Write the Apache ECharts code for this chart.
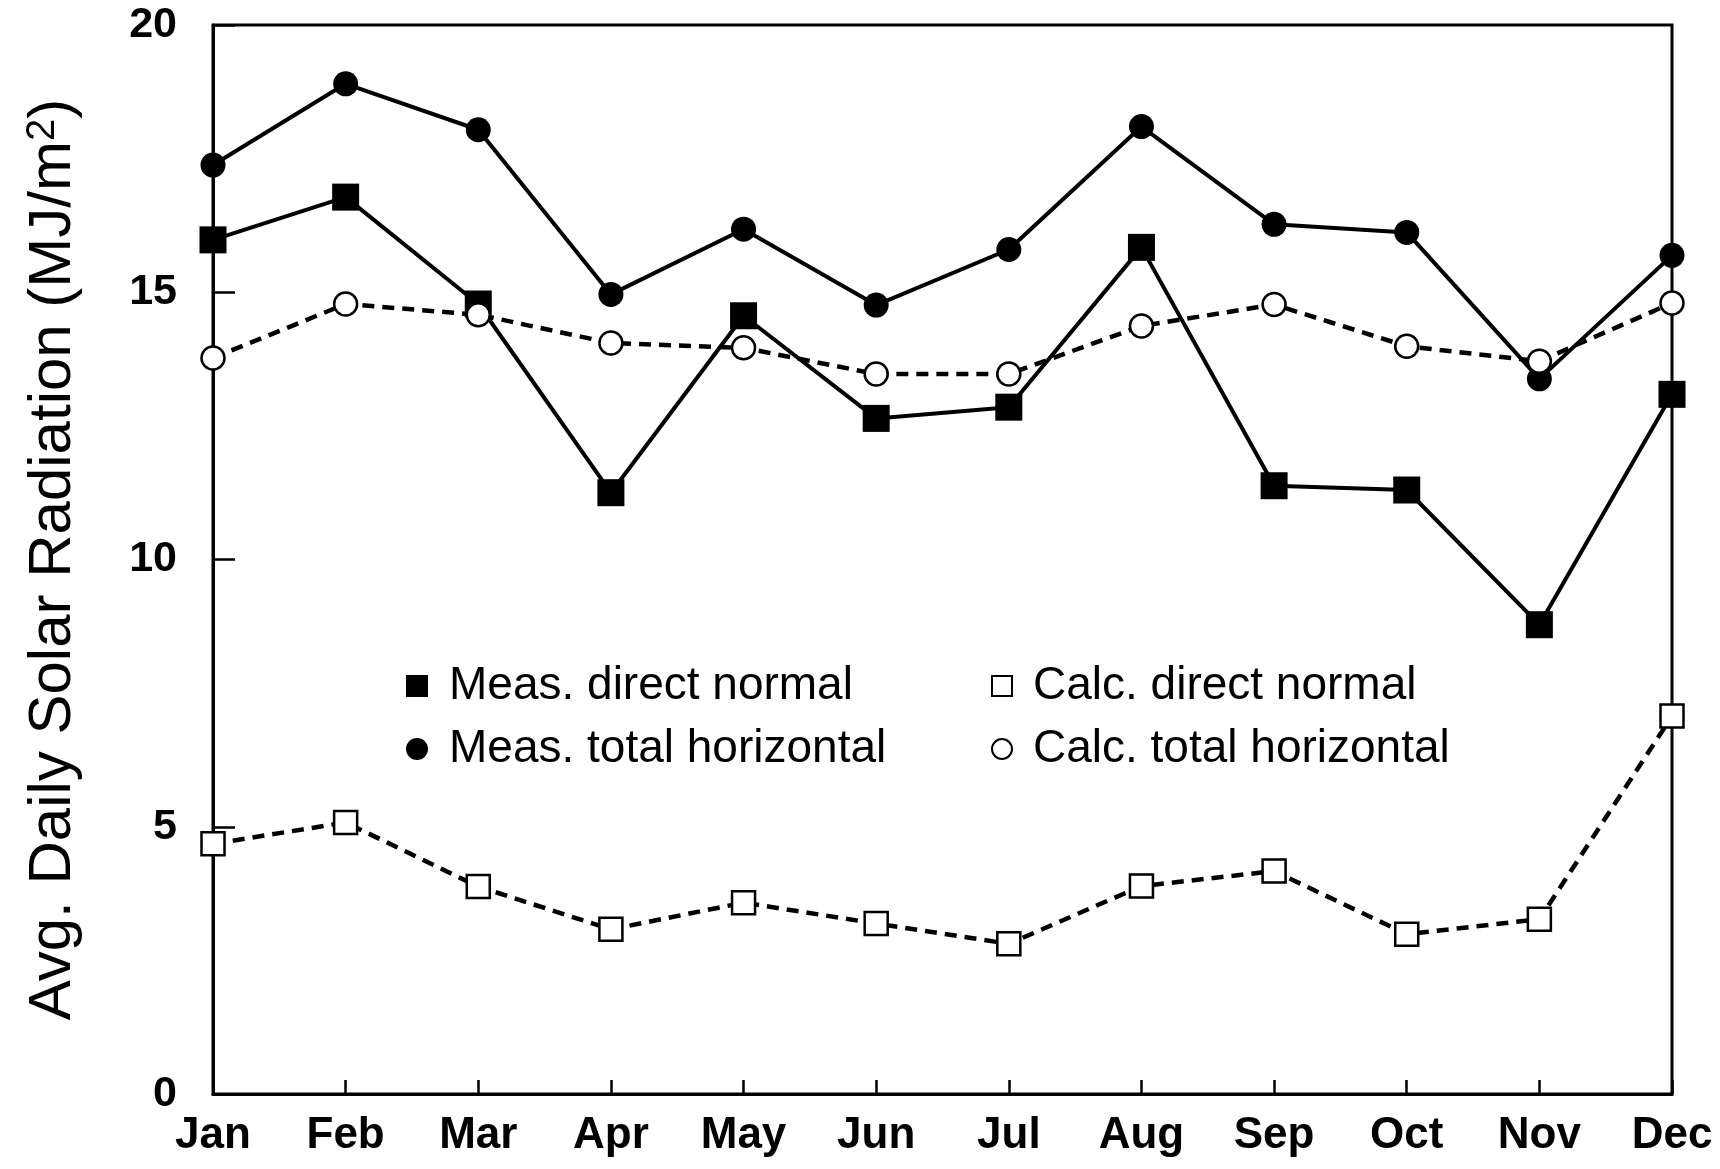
<!DOCTYPE html>
<html>
<head>
<meta charset="utf-8">
<script src="https://cdn.jsdelivr.net/npm/echarts@6/dist/echarts.min.js"></script>
<style>
  html, body { margin: 0; padding: 0; background: #fff; }
  #chart { width: 1720px; height: 1169px; }
</style>
</head>
<body>
<div id="chart"></div>
<script>
// Monthly averages of daily solar radiation, MJ/m^2
const months = ['Jan', 'Feb', 'Mar', 'Apr', 'May', 'Jun', 'Jul', 'Aug', 'Sep', 'Oct', 'Nov', 'Dec'];
const measDirectNormal = [15.98, 16.78, 14.78, 11.25, 14.56, 12.64, 12.85, 15.84, 11.38, 11.30, 8.78, 13.09];
const measTotalHorizontal = [17.38, 18.90, 18.04, 14.96, 16.18, 14.76, 15.80, 18.10, 16.27, 16.12, 13.38, 15.69];
const calcDirectNormal = [4.68, 5.08, 3.88, 3.08, 3.58, 3.19, 2.81, 3.89, 4.17, 2.99, 3.27, 7.07];
const calcTotalHorizontal = [13.77, 14.78, 14.58, 14.05, 13.96, 13.47, 13.47, 14.37, 14.77, 13.99, 13.71, 14.80];
const yTicks = [0, 5, 10, 15, 20];

const seriesNames = [
  'Meas. direct normal',
  'Meas. total horizontal',
  'Calc. direct normal',
  'Calc. total horizontal'
];

const FONT = '"Liberation Sans", Arial, Helvetica, sans-serif';
const INK = '#000';

const filled = { color: INK, borderColor: INK, borderWidth: 0 };
const hollow = { color: '#fff', borderColor: INK, borderWidth: 2.5 };

const chart = echarts.init(document.getElementById('chart'), null, { renderer: 'canvas' });

chart.setOption({
  backgroundColor: '#fff',
  animation: false,
  textStyle: { fontFamily: FONT, color: INK },
  grid: {
    left: 213, right: 48, top: 25, bottom: 75,
    show: true, borderColor: INK, borderWidth: 3, backgroundColor: 'transparent'
  },
  legend: [
    {
      orient: 'vertical', left: 401, top: 656, itemGap: 13,
      itemWidth: 22, itemHeight: 22,
      textStyle: { fontFamily: FONT, fontSize: 46, color: INK, lineHeight: 50, padding: [0, 0, 0, 16] },
      data: [
        { name: seriesNames[0], icon: 'rect', itemStyle: filled },
        { name: seriesNames[1], icon: 'circle', itemStyle: filled }
      ]
    },
    {
      orient: 'vertical', left: 986, top: 656, itemGap: 13,
      itemWidth: 20, itemHeight: 20,
      textStyle: { fontFamily: FONT, fontSize: 46, color: INK, lineHeight: 50, padding: [0, 0, 0, 16] },
      data: [
        { name: seriesNames[2], icon: 'rect', itemStyle: { color: '#fff', borderColor: INK, borderWidth: 2 } },
        { name: seriesNames[3], icon: 'circle', itemStyle: { color: '#fff', borderColor: INK, borderWidth: 2 } }
      ]
    }
  ],
  xAxis: {
    type: 'category',
    data: months,
    boundaryGap: false,
    axisLine: { lineStyle: { color: INK, width: 3 } },
    axisTick: { inside: true, length: 14, lineStyle: { color: INK, width: 2.5 } },
    axisLabel: { margin: 20, fontSize: 44, fontWeight: 'bold', color: INK, fontFamily: FONT },
    splitLine: { show: false }
  },
  yAxis: {
    type: 'value',
    min: yTicks[0],
    max: yTicks[yTicks.length - 1],
    interval: yTicks[1] - yTicks[0],
    name: 'Avg. Daily Solar Radiation (MJ/m{sup|2})',
    nameLocation: 'middle',
    nameRotate: 90,
    nameGap: 130,
    nameTextStyle: {
      fontFamily: FONT, fontSize: 60, color: INK,
      rich: { sup: { fontFamily: FONT, fontSize: 40, color: INK, verticalAlign: 'top', lineHeight: 60 } }
    },
    axisLine: { show: true, lineStyle: { color: INK, width: 3 } },
    axisTick: { show: true, inside: true, length: 22, lineStyle: { color: INK, width: 2.5 } },
    axisLabel: { margin: 36, fontSize: 43, fontWeight: 'bold', color: INK, fontFamily: FONT },
    splitLine: { show: false }
  },
  series: [
    {
      name: seriesNames[0], type: 'line', data: measDirectNormal,
      symbol: 'rect', symbolSize: 27,
      lineStyle: { color: INK, width: 4 }, itemStyle: filled, z: 2
    },
    {
      name: seriesNames[1], type: 'line', data: measTotalHorizontal,
      symbol: 'circle', symbolSize: 25,
      lineStyle: { color: INK, width: 4 }, itemStyle: filled, z: 3
    },
    {
      name: seriesNames[2], type: 'line', data: calcDirectNormal,
      symbol: 'rect', symbolSize: 23,
      lineStyle: { color: INK, width: 4.5, type: [12, 8] }, itemStyle: hollow, z: 4
    },
    {
      name: seriesNames[3], type: 'line', data: calcTotalHorizontal,
      symbol: 'circle', symbolSize: 23,
      lineStyle: { color: INK, width: 4.5, type: [12, 8] }, itemStyle: hollow, z: 5
    }
  ]
});
</script>
</body>
</html>
